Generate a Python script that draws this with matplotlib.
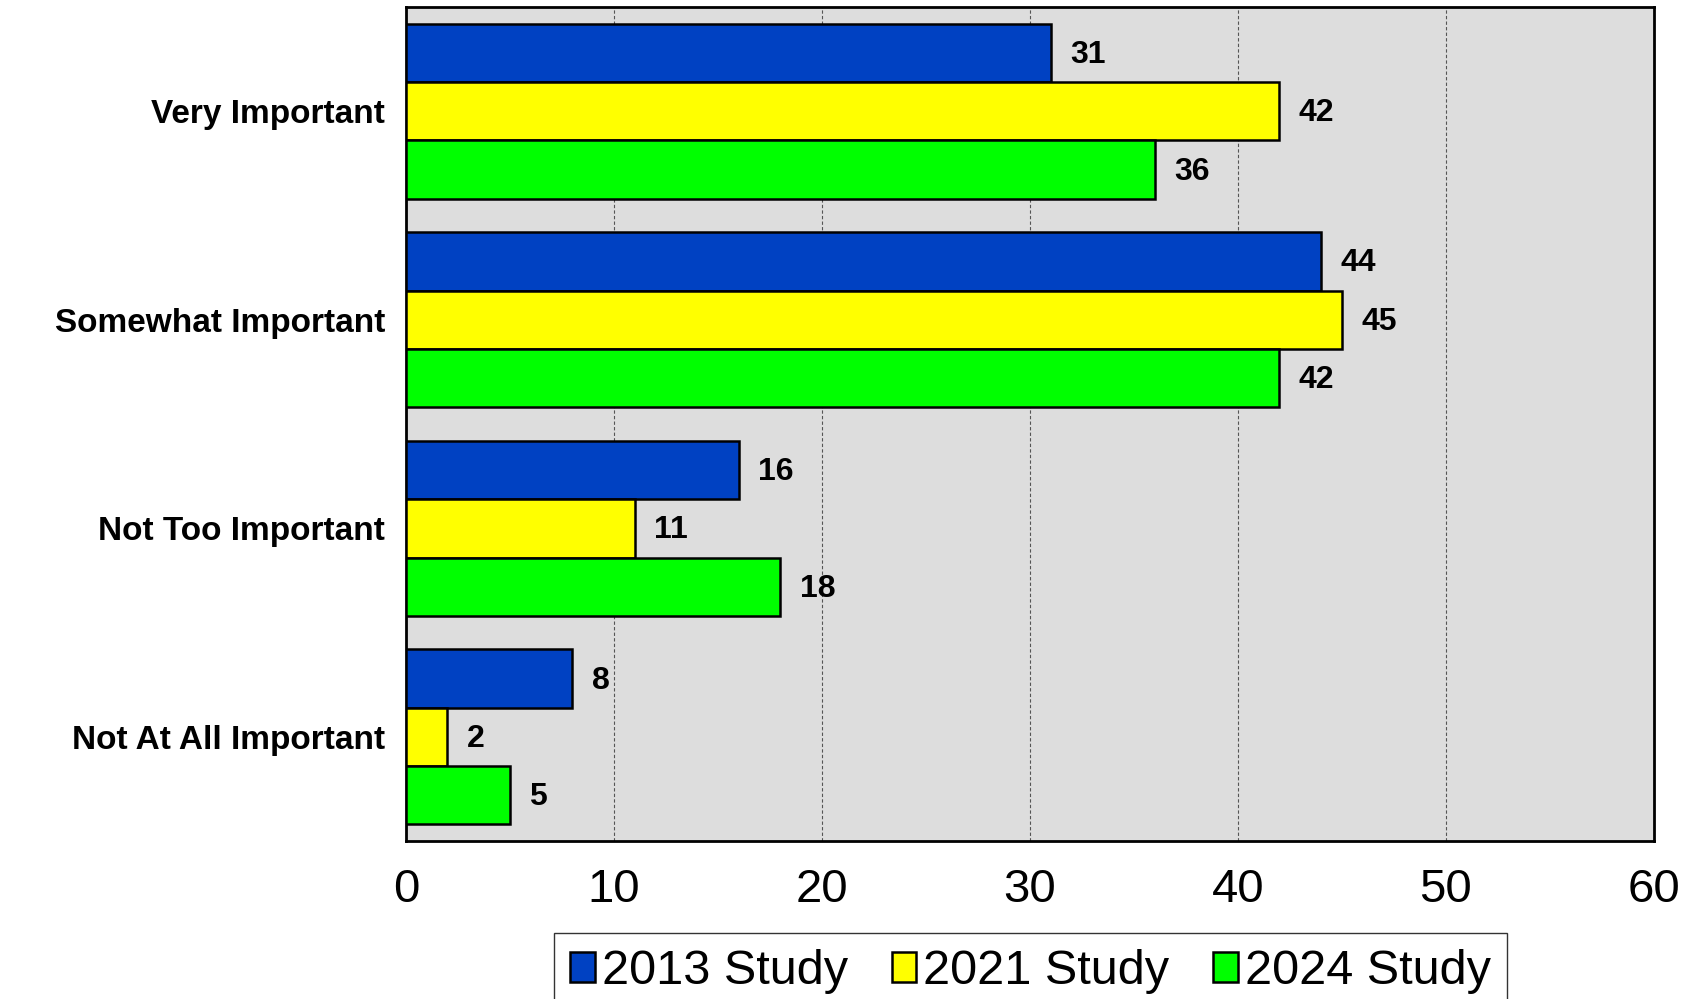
import matplotlib.pyplot as plt
import numpy as np

# Survey responses by importance level, percent
categories = ["Very Important", "Somewhat Important", "Not Too Important", "Not At All Important"]
series_names = ["2013 Study", "2021 Study", "2024 Study"]
study_2013 = [31, 44, 16, 8]
study_2021 = [42, 45, 11, 2]
study_2024 = [36, 42, 18, 5]
colors = ["#0041C2", "#FFFF00", "#00FF00"]
x_ticks = [0, 10, 20, 30, 40, 50, 60]

plt.rcParams['font.family'] = ['Liberation Sans', 'DejaVu Sans']

fig = plt.figure(figsize=(16.98, 9.99), dpi=100)
ax = fig.add_axes([0.239, 0.158, 0.735, 0.835])
ax.set_facecolor("#DDDDDD")

y = np.arange(len(categories))
h = 0.28
for i, (vals, name, col) in enumerate(zip([study_2013, study_2021, study_2024], series_names, colors)):
    pos = y + (i - 1) * h
    bars = ax.barh(pos, vals, height=h, color=col, edgecolor="black", linewidth=1.8, label=name, zorder=3)
    for b, v in zip(bars, vals):
        ax.annotate(str(v), (v, b.get_y() + b.get_height() / 2), xytext=(14, -1.5),
                    textcoords="offset points", ha="left", va="center",
                    fontsize=23, fontweight="bold", zorder=4)

ax.set_xlim(0, 60)
ax.set_ylim(3.5, -0.5)
ax.set_xticks(x_ticks)
ax.set_yticks(y)
ax.set_yticklabels(categories, fontsize=24, fontweight="bold")
ax.tick_params(axis="x", labelsize=34, length=0, pad=19)
ax.tick_params(axis="y", length=0, pad=15)
ax.xaxis.grid(True, linestyle=(0, (3, 2)), color="#555555", linewidth=0.8, zorder=1)
ax.set_axisbelow(True)
for s in ax.spines.values():
    s.set_linewidth(2)

fig.legend(loc="upper center", bbox_to_anchor=(0.607, 0.066), ncol=3, fontsize=35,
           frameon=True, fancybox=False, edgecolor="black", handlelength=0.5,
           handleheight=0.6, handletextpad=0.15, columnspacing=0.9, borderpad=0.33,
           borderaxespad=0)

fig.savefig("out.png", dpi=100)
